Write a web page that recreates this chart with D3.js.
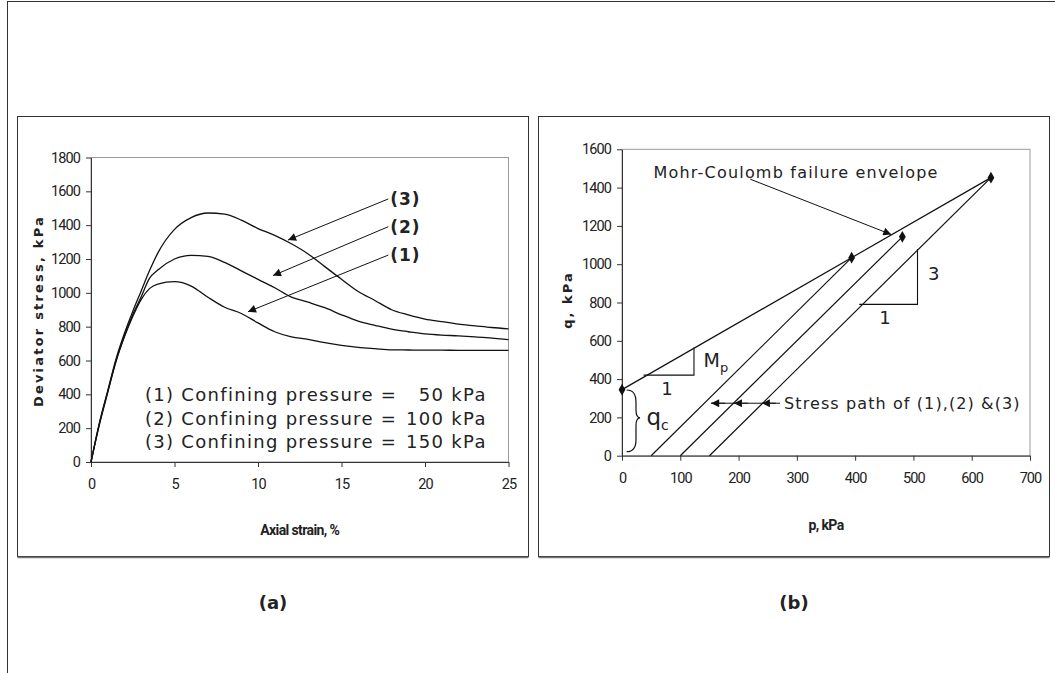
<!DOCTYPE html>
<html>
<head>
<meta charset="utf-8">
<script src="https://cdn.jsdelivr.net/npm/d3@7"></script>
<style>
  body { margin: 0; background: #fff; }
  svg { display: block; }
  .tick text { font-family: Roboto, "Liberation Sans Narrow", sans-serif; font-size: 14.5px; letter-spacing: -0.9px; fill: #222; }
  .domain, .tick line { stroke: #333; }
  .lbl { font-family: "DejaVu Sans", Verdana, sans-serif; fill: #222; }
</style>
</head>
<body>
<div id="fig"></div>
<script>
// ---- data (a): deviator stress vs axial strain ----
var strain = [0, 0.5, 1, 1.5, 2, 2.5, 3, 3.5, 4, 5, 6, 7, 8, 9, 10, 11, 12, 13, 14, 15, 16, 17, 18, 19, 20, 21, 22, 23, 24, 25];
var q50  = [0, 220, 410, 595, 740, 860, 960, 1025, 1052, 1066, 1040, 974, 915, 878, 822, 770, 740, 725, 706, 690, 678, 670, 663, 662, 661, 661, 660, 660, 660, 660];
var q100 = [0, 225, 415, 600, 745, 870, 975, 1085, 1135, 1200, 1222, 1215, 1180, 1130, 1080, 1030, 975, 945, 912, 870, 833, 808, 785, 770, 757, 750, 746, 740, 732, 724];
var q150 = [0, 230, 420, 610, 760, 890, 1010, 1130, 1235, 1375, 1445, 1472, 1465, 1430, 1380, 1340, 1290, 1230, 1155, 1080, 1008, 955, 900, 870, 845, 830, 815, 805, 795, 787];
var curveNames = ["(1)", "(2)", "(3)"];
var legendText = ["(1) Confining pressure =", "(2) Confining pressure =", "(3) Confining pressure ="];
var legendValue = ["50 kPa", "100 kPa", "150 kPa"];
var xTicksA = [0, 5, 10, 15, 20, 25];
var yTicksA = [0, 200, 400, 600, 800, 1000, 1200, 1400, 1600, 1800];

// ---- data (b): q vs p ----
var failP = [0, 394, 481, 633];
var failQ = [345, 1034, 1143, 1452];
var pathStartP = [50, 100, 150];
var xTicksB = [0, 100, 200, 300, 400, 500, 600, 700];
var yTicksB = [0, 200, 400, 600, 800, 1000, 1200, 1400, 1600];

var svg = d3.select('#fig')
  .append('svg')
    .attr('width', 1055)
    .attr('height', 673);

var defs = svg.append('defs');
defs.append('marker')
    .attr('id', 'arr')
    .attr('viewBox', '0 0 10 10')
    .attr('refX', 10).attr('refY', 5)
    .attr('markerUnits', 'userSpaceOnUse')
    .attr('markerWidth', 10).attr('markerHeight', 8)
    .attr('orient', 'auto-start-reverse')
  .append('path')
    .attr('d', 'M0,0 L10,5 L0,10 z')
    .attr('fill', '#111');

// outer frame and panel boxes
svg.append('rect')
  .attr('x', 7.5).attr('y', 1.5).attr('width', 1100).attr('height', 700)
  .attr('fill', 'none').attr('stroke', '#333');
[17.5, 538.5].forEach(function(x0) {
  svg.append('rect')
    .attr('x', x0).attr('y', 116.5).attr('width', 511).attr('height', 440)
    .attr('fill', 'none').attr('stroke', '#333');
  svg.append('line')
    .attr('x1', x0).attr('x2', x0 + 511).attr('y1', 557.5).attr('y2', 557.5)
    .attr('stroke', '#777').attr('stroke-width', 1.5);
});

var fmt = d3.format('d');

// ================= panel (a) =================
var xA = d3.scaleLinear().domain([0, 25]).range([91, 508.5]);
var yA = d3.scaleLinear().domain([0, 1800]).range([462, 157.5]);

// plot area border (grey, Excel style)
svg.append('rect')
  .attr('x', xA(0)).attr('y', yA(1800))
  .attr('width', xA(25) - xA(0)).attr('height', yA(0) - yA(1800))
  .attr('fill', 'none').attr('stroke', '#9a9a9a');

svg.append('g')
  .attr('transform', 'translate(0,' + yA(0) + ')')
  .call(d3.axisBottom(xA).tickValues(xTicksA).tickFormat(fmt).tickSize(5).tickPadding(12).tickSizeOuter(0));
svg.append('g')
  .attr('transform', 'translate(' + xA(0) + ',0)')
  .call(d3.axisLeft(yA).tickValues(yTicksA).tickFormat(fmt).tickSize(5).tickPadding(6).tickSizeOuter(0));

var lineA = d3.line()
  .x(function(d, i) { return xA(strain[i]); })
  .y(function(d) { return yA(d); })
  .curve(d3.curveMonotoneX);

[q50, q100, q150].forEach(function(s) {
  svg.append('path')
    .attr('d', lineA(s))
    .attr('fill', 'none')
    .attr('stroke', '#111')
    .attr('stroke-width', 1.3);
});

// curve tags with arrows
var tagS = 17.8;
var tagQ = [1223, 1391, 1555];
var tipS = [9.4, 10.9, 11.8];
var tipQ = [888, 1102, 1312];
curveNames.forEach(function(name, i) {
  svg.append('line')
    .attr('x1', xA(tagS)).attr('y1', yA(tagQ[i]))
    .attr('x2', xA(tipS[i])).attr('y2', yA(tipQ[i]))
    .attr('stroke', '#111').attr('stroke-width', 1)
    .attr('marker-end', 'url(#arr)');
  svg.append('text')
    .attr('class', 'lbl')
    .attr('x', xA(tagS) + 2).attr('y', yA(tagQ[i]))
    .attr('dy', '0.36em')
    .style('font-size', '17px').style('font-weight', 'bold').style('letter-spacing', '1px')
    .text(name);
});

// legend
var legQ = [396, 258, 120];
legendText.forEach(function(t, i) {
  svg.append('text')
    .attr('class', 'lbl')
    .attr('x', xA(3.23)).attr('y', yA(legQ[i])).attr('dy', '0.36em')
    .style('font-size', '18px').style('letter-spacing', '1.3px')
    .text(t);
  svg.append('text')
    .attr('class', 'lbl')
    .attr('x', xA(23.7)).attr('y', yA(legQ[i])).attr('dy', '0.36em')
    .attr('text-anchor', 'end')
    .style('font-size', '18px').style('letter-spacing', '1.3px')
    .text(legendValue[i]);
});

// axis titles
svg.append('text')
  .attr('class', 'lbl')
  .attr('transform', 'translate(38,311) rotate(-90)')
  .attr('text-anchor', 'middle').attr('dy', '0.36em')
  .style('font-size', '13px').style('font-weight', 'bold').style('letter-spacing', '2.2px')
  .text('Deviator stress, kPa');
svg.append('text')
  .attr('x', (xA(0) + xA(25)) / 2).attr('y', 530).attr('dy', '0.36em')
  .attr('text-anchor', 'middle')
  .style('font-family', 'Roboto, sans-serif')
  .style('font-size', '14px').style('font-weight', 'bold').style('letter-spacing', '-0.6px').style('fill', '#222')
  .text('Axial strain, %');

// ================= panel (b) =================
var xB = d3.scaleLinear().domain([0, 700]).range([622, 1030]);
var yB = d3.scaleLinear().domain([0, 1600]).range([455.7, 149.3]);

svg.append('rect')
  .attr('x', xB(0)).attr('y', yB(1600))
  .attr('width', xB(700) - xB(0)).attr('height', yB(0) - yB(1600))
  .attr('fill', 'none').attr('stroke', '#9a9a9a');

svg.append('g')
  .attr('transform', 'translate(0,' + yB(0) + ')')
  .call(d3.axisBottom(xB).tickValues(xTicksB).tickFormat(fmt).tickSize(5).tickPadding(12).tickSizeOuter(0));
svg.append('g')
  .attr('transform', 'translate(' + xB(0) + ',0)')
  .call(d3.axisLeft(yB).tickValues(yTicksB).tickFormat(fmt).tickSize(5).tickPadding(6).tickSizeOuter(0));

// failure envelope
svg.append('line')
  .attr('x1', xB(failP[0])).attr('y1', yB(failQ[0]))
  .attr('x2', xB(failP[3])).attr('y2', yB(failQ[3]))
  .attr('stroke', '#111').attr('stroke-width', 1.2);

// stress paths
pathStartP.forEach(function(p0, i) {
  svg.append('line')
    .attr('x1', xB(p0)).attr('y1', yB(0))
    .attr('x2', xB(failP[i + 1])).attr('y2', yB(failQ[i + 1]))
    .attr('stroke', '#111').attr('stroke-width', 1.2);
});

// failure points
svg.selectAll('.pt')
  .data(failP)
  .enter().append('path')
    .attr('class', 'pt')
    .attr('transform', function(d, i) { return 'translate(' + xB(d) + ',' + yB(failQ[i]) + ')'; })
    .attr('d', d3.symbol().type(d3.symbolDiamond).size(40))
    .attr('fill', '#111');

// Mohr-Coulomb label + arrow
svg.append('text')
  .attr('class', 'lbl')
  .attr('x', xB(54)).attr('y', yB(1480)).attr('dy', '0.36em')
  .style('font-size', '16px').style('letter-spacing', '1.2px')
  .text('Mohr-Coulomb failure envelope');
svg.append('line')
  .attr('x1', xB(220)).attr('y1', yB(1444))
  .attr('x2', xB(462)).attr('y2', yB(1155))
  .attr('stroke', '#111').attr('stroke-width', 1)
  .attr('marker-end', 'url(#arr)');

// slope triangle 3:1
svg.append('path')
  .attr('d', 'M' + xB(407) + ',' + yB(790) + 'H' + xB(507) + 'V' + yB(1079))
  .attr('fill', 'none').attr('stroke', '#111').attr('stroke-width', 1.1);
svg.append('text').attr('class', 'lbl')
  .attr('x', xB(535)).attr('y', yB(952)).attr('dy', '0.36em').attr('text-anchor', 'middle')
  .style('font-size', '18px').text('3');
svg.append('text').attr('class', 'lbl')
  .attr('x', xB(451)).attr('y', yB(719)).attr('dy', '0.36em').attr('text-anchor', 'middle')
  .style('font-size', '18px').text('1');

// Mp triangle
svg.append('path')
  .attr('d', 'M' + xB(37) + ',' + yB(421) + 'H' + xB(123.5) + 'V' + yB(565))
  .attr('fill', 'none').attr('stroke', '#111').attr('stroke-width', 1.1);
var mp = svg.append('text').attr('class', 'lbl')
  .attr('x', xB(140)).attr('y', yB(500)).attr('dy', '0.36em')
  .style('font-size', '19px');
mp.append('tspan').text('M');
mp.append('tspan').attr('dy', '5').style('font-size', '13px').text('p');
svg.append('text').attr('class', 'lbl')
  .attr('x', xB(77)).attr('y', yB(350)).attr('dy', '0.36em').attr('text-anchor', 'middle')
  .style('font-size', '18px').text('1');

// qc brace
var bx0 = xB(8), bx1 = xB(24), bxt = xB(31);
var byTop = yB(343), byMid = yB(198), byBot = yB(21);
svg.append('path')
  .attr('d', 'M' + bx0 + ',' + byTop +
             'Q' + bx1 + ',' + byTop + ' ' + bx1 + ',' + (byTop + 12) +
             'V' + (byMid - 8) +
             'Q' + bx1 + ',' + byMid + ' ' + bxt + ',' + byMid +
             'Q' + bx1 + ',' + byMid + ' ' + bx1 + ',' + (byMid + 8) +
             'V' + (byBot - 12) +
             'Q' + bx1 + ',' + byBot + ' ' + bx0 + ',' + byBot)
  .attr('fill', 'none').attr('stroke', '#111').attr('stroke-width', 1.2);
var qc = svg.append('text').attr('class', 'lbl')
  .attr('x', xB(42)).attr('y', yB(205)).attr('dy', '0.36em')
  .style('font-size', '23px');
qc.append('tspan').text('q');
qc.append('tspan').attr('dy', '5').style('font-size', '14px').text('c');

// stress path label with arrows
var arrowQ = 274;
var arrowTipP = [153, 192, 240];
var stressTextP = 278;
svg.append('line')
  .attr('x1', xB(stressTextP) - 4).attr('y1', yB(arrowQ))
  .attr('x2', xB(arrowTipP[0])).attr('y2', yB(arrowQ))
  .attr('stroke', '#111').attr('stroke-width', 1);
arrowTipP.forEach(function(p) {
  svg.append('line')
    .attr('x1', xB(p) + 14).attr('y1', yB(arrowQ))
    .attr('x2', xB(p)).attr('y2', yB(arrowQ))
    .attr('stroke', '#111').attr('stroke-width', 1)
    .attr('marker-end', 'url(#arr)');
});
svg.append('text').attr('class', 'lbl')
  .attr('x', xB(stressTextP)).attr('y', yB(arrowQ)).attr('dy', '0.36em')
  .style('font-size', '16px').style('letter-spacing', '1.1px')
  .text('Stress path of (1),(2) &(3)');

// axis titles
svg.append('text')
  .attr('class', 'lbl')
  .attr('transform', 'translate(567,300) rotate(-90)')
  .attr('text-anchor', 'middle').attr('dy', '0.36em')
  .style('font-size', '13px').style('font-weight', 'bold').style('letter-spacing', '2px')
  .text('q, kPa');
svg.append('text')
  .attr('x', (xB(0) + xB(700)) / 2).attr('y', 525).attr('dy', '0.36em')
  .attr('text-anchor', 'middle')
  .style('font-family', 'Roboto, sans-serif')
  .style('font-size', '14px').style('font-weight', 'bold').style('letter-spacing', '-0.6px').style('fill', '#222')
  .text('p, kPa');

// captions
[['(a)', 273], ['(b)', 794]].forEach(function(c) {
  svg.append('text')
    .attr('class', 'lbl')
    .attr('x', c[1]).attr('y', 603).attr('dy', '0.36em')
    .attr('text-anchor', 'middle')
    .style('font-size', '18px').style('font-weight', 'bold')
    .text(c[0]);
});
</script>
</body>
</html>
